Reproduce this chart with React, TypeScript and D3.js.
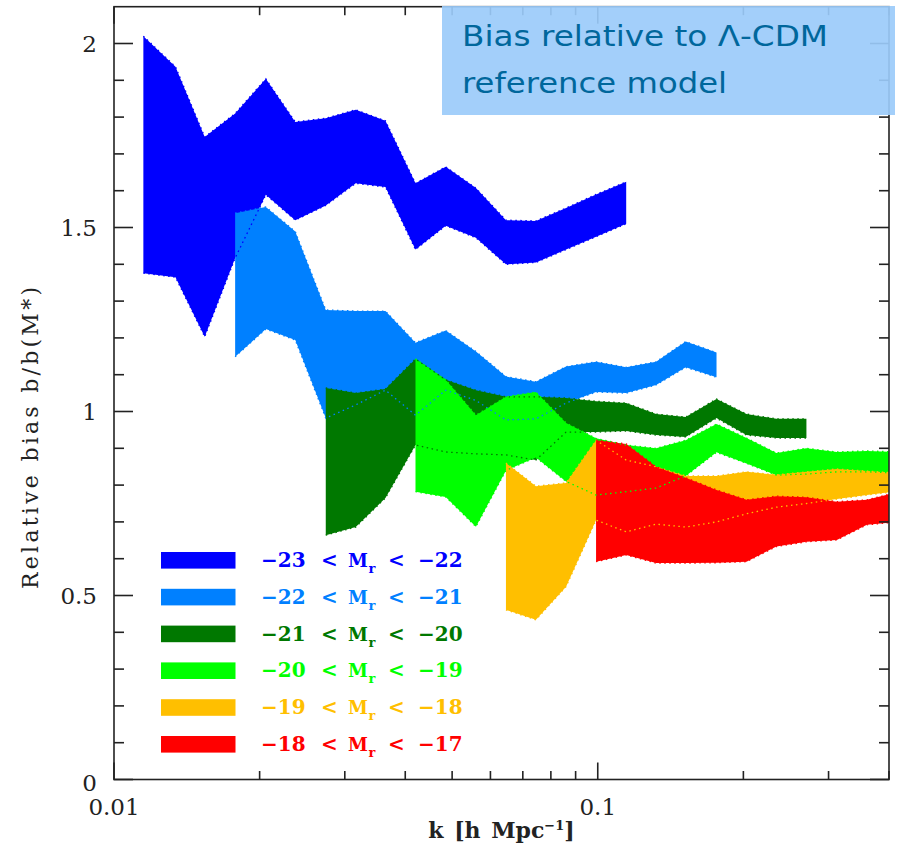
import * as d3 from 'd3';

// k bin centres [h/Mpc]
const kBins = [
  0.0115, 0.0134, 0.0154, 0.0178, 0.0206, 0.0237, 0.0274, 0.0316, 0.0364,
  0.042, 0.0485, 0.056, 0.0646, 0.0745, 0.086, 0.0992, 0.1145, 0.132, 0.152,
  0.176, 0.203, 0.234, 0.27, 0.312, 0.36, 0.415,
];

// upper / lower edges of each band, starting at bin index bandStart[i]
const m23Hi = [2.02, 1.937, 1.746, 1.81, 1.904, 1.787, 1.797, 1.82, 1.79, 1.62, 1.665, 1.607, 1.52, 1.518, 1.553, 1.59, 1.624];
const m23Lo = [1.376, 1.365, 1.203, 1.417, 1.589, 1.52, 1.56, 1.62, 1.61, 1.44, 1.505, 1.472, 1.4, 1.405, 1.44, 1.475, 1.51];

const m22Hi = [1.539, 1.556, 1.489, 1.276, 1.273, 1.273, 1.187, 1.22, 1.163, 1.095, 1.081, 1.122, 1.135, 1.12, 1.135, 1.19, 1.16];
const m22Lo = [1.149, 1.224, 1.194, 0.982, 1.018, 1.058, 0.99, 1.058, 1.03, 0.977, 0.98, 1.023, 1.053, 1.05, 1.072, 1.12, 1.093];

const m21Hi = [1.064, 1.05, 1.061, 1.143, 1.086, 1.058, 1.04, 1.04, 1.037, 1.028, 1.023, 0.993, 0.985, 1.034, 0.993, 0.98, 0.98];
const m21Lo = [0.664, 0.686, 0.765, 0.909, 0.89, 0.885, 0.882, 0.868, 0.944, 0.944, 0.947, 0.936, 0.931, 0.982, 0.936, 0.928, 0.928];

const m20Hi = [1.143, 1.086, 0.99, 1.04, 1.053, 0.969, 0.927, 0.909, 0.9, 0.922, 0.966, 0.928, 0.887, 0.9, 0.89, 0.893, 0.89];
const m20Lo = [0.782, 0.768, 0.687, 0.84, 0.875, 0.81, 0.773, 0.782, 0.792, 0.825, 0.889, 0.859, 0.827, 0.83, 0.836, 0.836, 0.833];

const m19Hi = [0.86, 0.797, 0.806, 0.922, 0.868, 0.85, 0.825, 0.825, 0.836, 0.828, 0.836, 0.844, 0.838, 0.833];
const m19Lo = [0.461, 0.434, 0.524, 0.705, 0.673, 0.694, 0.686, 0.7, 0.722, 0.74, 0.75, 0.762, 0.773, 0.783];

const m18Hi = [0.922, 0.912, 0.85, 0.82, 0.787, 0.76, 0.77, 0.767, 0.755, 0.76, 0.78];
const m18Lo = [0.592, 0.61, 0.588, 0.588, 0.589, 0.592, 0.633, 0.646, 0.651, 0.692, 0.7];

const bandHi = [m23Hi, m22Hi, m21Hi, m20Hi, m19Hi, m18Hi];
const bandLo = [m23Lo, m22Lo, m21Lo, m20Lo, m19Lo, m18Lo];
const bandStart = [0, 3, 6, 9, 12, 15];
const bandFrom = ['−23', '−22', '−21', '−20', '−19', '−18'];
const bandTo = ['−22', '−21', '−20', '−19', '−18', '−17'];
const bandColors = ['#0000ff', '#0080ff', '#007800', '#00ff00', '#ffbf00', '#ff0000'];

const yTickLabels = ['0', '0.5', '1', '1.5', '2'];
const xTickLabels = ['0.01', '0.1'];

const W = 899;
const H = 857;
const left = 114;
const right = 889;
const top = 6.7;
const bottom = 779.5;

type Pt = [number, number, number];

export default function App() {
  const x = d3.scaleLog().domain([0.01, 0.4]).range([left, right]);
  const y = d3.scaleLinear().domain([0, 2.1]).range([bottom, top]);

  const bands: Pt[][] = bandHi.map((hi, i) =>
    hi.map((h, j) => [kBins[bandStart[i] + j], bandLo[i][j], h] as Pt)
  );

  const area = d3
    .area<Pt>()
    .x((d) => x(d[0]))
    .y0((d) => y(d[1]))
    .y1((d) => y(d[2]));
  const hiLine = d3.line<Pt>().x((d) => x(d[0])).y((d) => y(d[2]));
  const loLine = d3.line<Pt>().x((d) => x(d[0])).y((d) => y(d[1]));

  const xTicks = x.ticks();
  const yTicks = d3.range(0, 21).map((i) => i / 10);
  const isMajorX = (v: number) => Math.abs(Math.log10(v) - Math.round(Math.log10(v))) < 1e-6;
  const isMajorY = (v: number) => Math.abs(v * 2 - Math.round(v * 2)) < 1e-6;

  const serif = "'DejaVu Serif', serif";

  return (
    <svg
      width={W}
      height={H}
      style={{ position: 'absolute', left: 0, top: 0, background: '#fff' }}
    >
      <defs>
        <clipPath id="plot">
          <rect x={left} y={top} width={right - left} height={bottom - top} />
        </clipPath>
      </defs>

      <g clipPath="url(#plot)">
        {bands.map((b, i) => (
          <path key={'a' + i} d={area(b) ?? ''} fill={bandColors[i]} />
        ))}
        {bands.map((b, i) => (
          <g key={'l' + i} fill="none" stroke={bandColors[i]} strokeWidth={1.3} strokeDasharray="1.5 3.5">
            <path d={hiLine(b) ?? ''} />
            <path d={loLine(b) ?? ''} />
          </g>
        ))}
      </g>

      {/* frame and ticks */}
      <g stroke="#222" strokeWidth={1.6} fill="none">
        <rect x={left} y={top} width={right - left} height={bottom - top} />
        {xTicks.map((t) => {
          const len = isMajorX(t) ? 17 : 8.5;
          return (
            <g key={'xt' + t}>
              <line x1={x(t)} x2={x(t)} y1={bottom} y2={bottom - len} />
              <line x1={x(t)} x2={x(t)} y1={top} y2={top + len} />
            </g>
          );
        })}
        {yTicks.map((t) => {
          const len = isMajorY(t) ? 19 : 10;
          return (
            <g key={'yt' + t}>
              <line x1={left} x2={left + len} y1={y(t)} y2={y(t)} />
              <line x1={right} x2={right - len} y1={y(t)} y2={y(t)} />
            </g>
          );
        })}
      </g>

      {/* tick labels */}
      <g fontFamily={serif} fontSize={23} fill="#222">
        {yTickLabels.map((s) => (
          <text
            key={'yl' + s}
            x={97}
            y={y(+s) + (s === '0' ? 11 : 8)}
            textAnchor="end"
          >
            {s}
          </text>
        ))}
        {xTickLabels.map((s) => (
          <text key={'xl' + s} x={x(+s)} y={815} textAnchor="middle">
            {s}
          </text>
        ))}
      </g>

      {/* axis titles */}
      <text
        x={(left + right) / 2}
        y={838}
        textAnchor="middle"
        fontFamily={serif}
        fontSize={22}
        fontWeight="bold"
        fill="#222"
        wordSpacing={3}
      >
        k [h Mpc
        <tspan fontSize={13} dy={-8}>−1</tspan>
        <tspan dy={8}>]</tspan>
      </text>
      <text
        transform="translate(38,438) rotate(-90)"
        textAnchor="middle"
        fontFamily={serif}
        fontSize={22}
        fill="#222"
        textLength={302}
        lengthAdjust="spacing"
      >
        Relative bias b/b(M*)
      </text>

      {/* legend */}
      <g fontFamily={serif} fontSize={20} fontWeight="bold">
        {bandColors.map((c, i) => {
          const ty = 552 + i * 36.8;
          const tx = 261;
          return (
            <g key={'lg' + i} fill={c}>
              <rect x={161} y={ty} width={74.5} height={16.6} />
              <text x={tx} y={ty + 15}>{bandFrom[i]}</text>
              <text x={tx + 60} y={ty + 15}>&lt;</text>
              <text x={tx + 87} y={ty + 15} fontSize={18}>M</text>
              <text x={tx + 107.5} y={ty + 21} fontSize={13}>r</text>
              <text x={tx + 127} y={ty + 15}>&lt;</text>
              <text x={tx + 157} y={ty + 15}>{bandTo[i]}</text>
            </g>
          );
        })}
      </g>

      {/* title box */}
      <rect x={442} y={6} width={453} height={109} fill="#9bcbfa" fillOpacity={0.92} />
      <g fontFamily="'DejaVu Sans', sans-serif" fontSize={29} fill="#00679c">
        <text x={462} y={46} textLength={366} lengthAdjust="spacingAndGlyphs">
          Bias relative to Λ-CDM
        </text>
        <text x={462} y={93} textLength={265} lengthAdjust="spacingAndGlyphs">
          reference model
        </text>
      </g>
    </svg>
  );
}
